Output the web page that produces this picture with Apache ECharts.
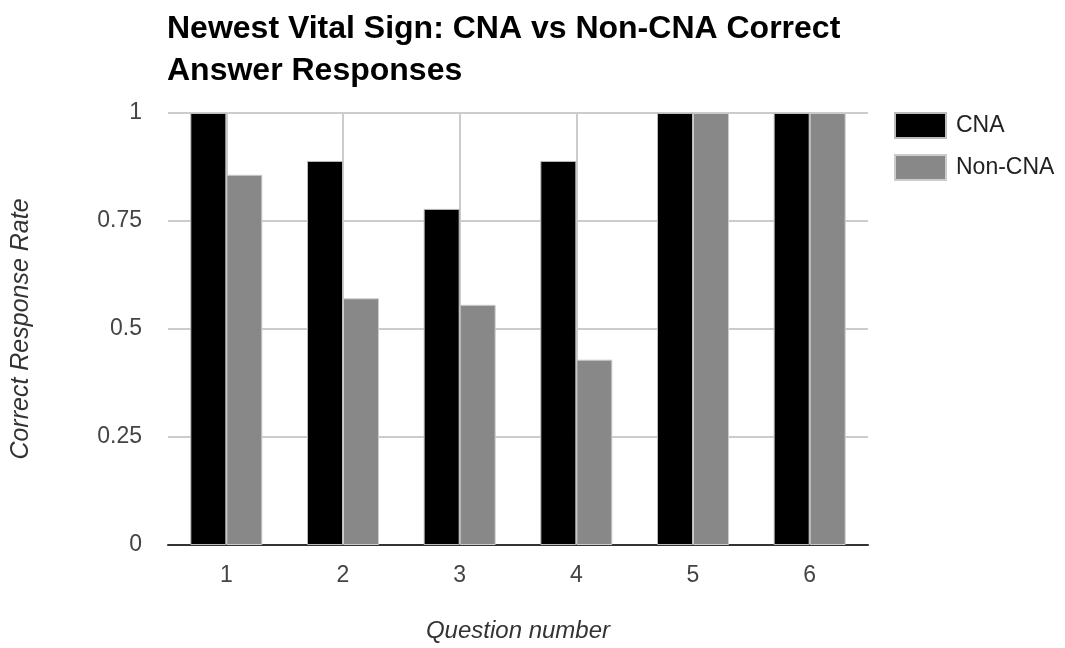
<!DOCTYPE html>
<html><head><meta charset="utf-8">
<script src="https://cdn.jsdelivr.net/npm/echarts@6/dist/echarts.min.js"></script>
<style>html,body{margin:0;padding:0;background:#fff}#c{width:1065px;height:648px}</style>
</head><body><div id="c"></div>
<script>
const categories = ['1','2','3','4','5','6'];
const cnaValues = [1, 0.889, 0.778, 0.889, 1, 1];
const nonCnaValues = [0.857, 0.571, 0.556, 0.429, 1, 1];
const yTicks = [0, 0.25, 0.5, 0.75, 1];

const chart = echarts.init(document.getElementById('c'));
const font = 'Liberation Sans, Arial, sans-serif';
chart.setOption({
  animation: false,
  textStyle: {fontFamily: font},
  title: {
    text: 'Newest Vital Sign: CNA vs Non-CNA Correct\nAnswer Responses',
    left: 162, top: 3,
    textStyle: {fontSize: 32, fontWeight: 'bold', color: '#000', lineHeight: 42, fontFamily: font}
  },
  legend: {
    orient: 'vertical', left: 889, top: 107,
    itemWidth: 51, itemHeight: 25, itemGap: 15,
    icon: 'rect',
    textStyle: {fontSize: 23, lineHeight: 25, color: '#222', padding: [0,0,0,5], fontFamily: font},
    data: ['CNA','Non-CNA']
  },
  grid: {left: 168, top: 113, width: 700, height: 435},
  xAxis: {
    type: 'category', data: categories,
    name: 'Question number', nameLocation: 'middle', nameGap: 74,
    nameTextStyle: {fontSize: 24, fontStyle: 'italic', color: '#333', fontFamily: font},
    axisLine: {lineStyle: {color: '#333', width: 2}},
    axisTick: {show: false},
    axisLabel: {fontSize: 23, color: '#444', margin: 19, fontFamily: font},
    splitLine: {show: true, alignWithLabel: true, lineStyle: {color: '#ccc', width: 2}}
  },
  yAxis: {
    type: 'value', min: 0, max: 1, interval: 0.25,
    name: 'Correct Response Rate', nameLocation: 'middle', nameGap: 134,
    nameTextStyle: {fontSize: 25, fontStyle: 'italic', color: '#333', fontFamily: font},
    axisLine: {show: false}, axisTick: {show: false},
    axisLabel: {fontSize: 23, color: '#444', margin: 26, fontFamily: font,
      formatter: v => yTicks.includes(v) ? String(v) : ''},
    splitLine: {lineStyle: {color: '#ccc', width: 2}}
  },
  series: [
    {name: 'CNA', type: 'bar', data: cnaValues, barWidth: 36, barGap: '0%',
     itemStyle: {color: '#000', borderColor: '#bbb', borderWidth: 1}},
    {name: 'Non-CNA', type: 'bar', data: nonCnaValues, barWidth: 36,
     itemStyle: {color: '#888', borderColor: '#ccc', borderWidth: 1}}
  ]
});
</script></body></html>
